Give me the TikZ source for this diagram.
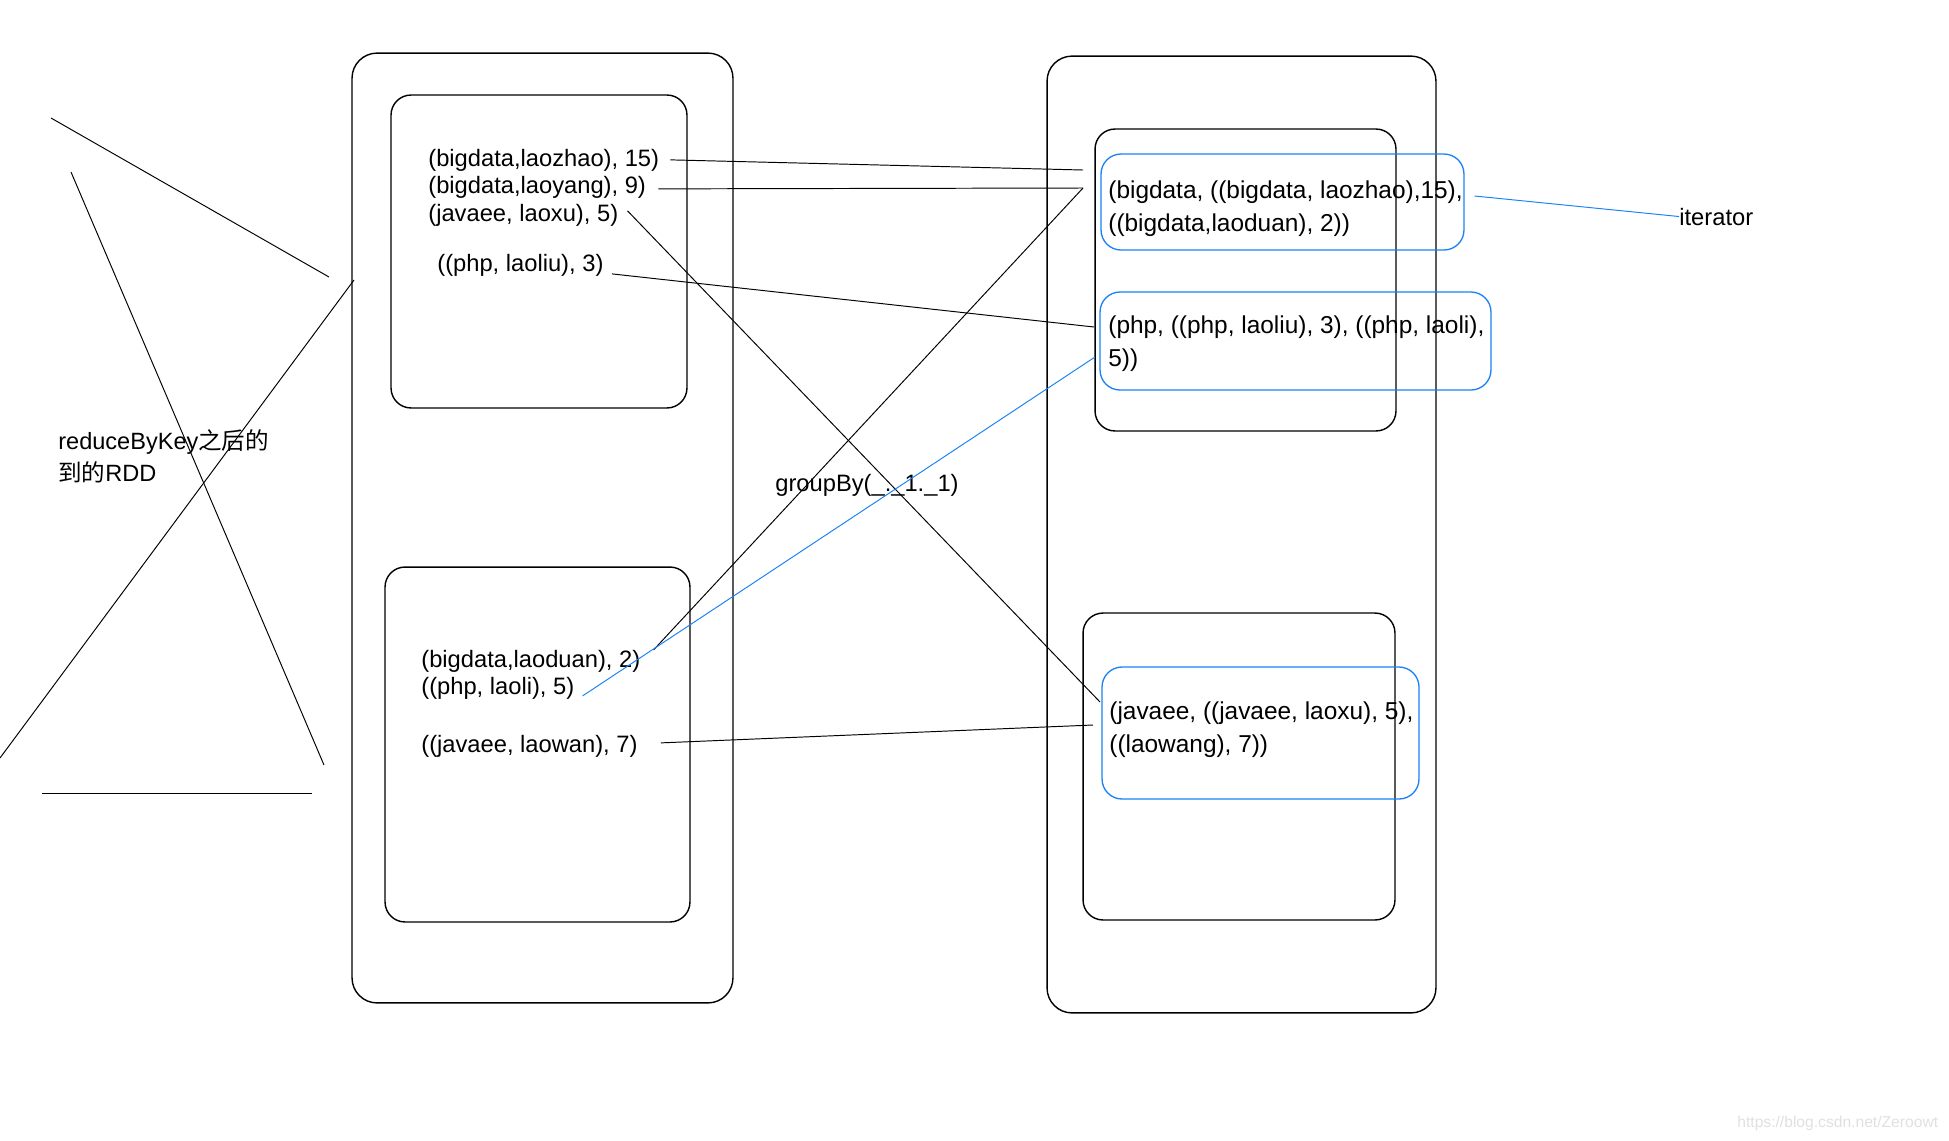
\documentclass[tikz,border=0pt]{standalone}
\usepackage{fontspec}
\setmainfont{Liberation Sans}
\newfontfamily\cjk{Noto Sans CJK SC}
\definecolor{linkblue}{RGB}{25,130,245}
\begin{document}
\begin{tikzpicture}[x=0.02cm, y=-0.02cm,
        rdd/.style={draw, rounded corners=0.5cm, line width=0.8pt},
        part/.style={draw, rounded corners=0.4cm, line width=0.8pt},
        group/.style={draw=linkblue, rounded corners=0.4cm, line width=0.75pt},
        ltext/.style={anchor=base west, inner sep=0pt, font=\fontsize{13.5}{15.4}\selectfont},
        rtext/.style={anchor=base west, inner sep=0pt, align=left, font=\fontsize{13.9}{18.7}\selectfont},
        link/.style={line width=0.55pt},
        bluelink/.style={draw=linkblue, line width=0.55pt}]
        \useasboundingbox (0,0) rectangle (1949,1140) ;
        % crossed out on the left
        \draw[link] (51,118) -- (329,277) ;
        \draw[link] (71,172) -- (324,765) ;
        \draw[link] (354,280) -- (0,758) ;
        \draw[link] (42,793) -- (312,793) ;
        \node[ltext, align=left, font=\fontsize{13.4}{18.1}\selectfont] (note) at (58,481) {reduceByKey{\cjk 之后的}\\{\cjk 到的}RDD};
        % RDD before groupBy
        \node[rdd, minimum width=7.62cm, minimum height=19cm] (rddA) at (542.5,528) {};
        \node[part, minimum width=5.92cm, minimum height=6.26cm] (partA1) at (539,251.5) {};
        \node[part, minimum width=6.1cm, minimum height=7.1cm] (partA2) at (537.5,744.5) {};
        \node[ltext] (t1) at (428,166) {(bigdata,laozhao), 15)};
        \node[ltext] (t2) at (428,193) {(bigdata,laoyang), 9)};
        \node[ltext] (t3) at (428,221) {(javaee, laoxu), 5)};
        \node[ltext] (t4) at (437,271) {((php, laoliu), 3)};
        \node[ltext] (t5) at (421,667) {(bigdata,laoduan), 2)};
        \node[ltext] (t6) at (421,694) {((php, laoli), 5)};
        \node[ltext] (t7) at (421,752) {((javaee, laowan), 7)};
        \node[ltext] (op) at (775,491) {groupBy(\_.\_1.\_1)};
        % RDD after groupBy
        \node[rdd, minimum width=7.78cm, minimum height=19.14cm] (rddB) at (1241.5,534.5) {};
        \node[part, minimum width=6.02cm, minimum height=6.04cm] (partB1) at (1245.5,280) {};
        \node[part, minimum width=6.24cm, minimum height=6.14cm] (partB2) at (1239,766.5) {};
        \node[group, minimum width=7.26cm, minimum height=1.92cm] (grp1) at (1282.5,202) {};
        \node[group, minimum width=7.82cm, minimum height=1.96cm] (grp2) at (1295.5,341) {};
        \node[group, minimum width=6.34cm, minimum height=2.64cm] (grp3) at (1260.5,733) {};
        \node[rtext] (g1) at (1108,231) {(bigdata, ((bigdata, laozhao),15),\\((bigdata,laoduan), 2))};
        \node[rtext] (g2) at (1108,366) {(php, ((php, laoliu), 3), ((php, laoli),\\5))};
        \node[rtext] (g3) at (1109,752) {(javaee, ((javaee, laoxu), 5),\\((laowang), 7))};
        \node[ltext] (iter) at (1679,225) {iterator};
        % connectors
        \coordinate (endA) at (1083,170) ;
        \coordinate (endB) at (1083,188) ;
        \coordinate (endC) at (1100,702) ;
        \coordinate (endD) at (1094,327) ;
        \coordinate (endF) at (1093,725) ;
        \coordinate (endG) at (1095,357) ;
        \draw[link] (t1.east) ++(11,0) -- (endA) ;
        \draw[link] (t2.east) ++(12,2) -- (endB) ;
        \draw[link] (t3.east) ++(9,-4) -- (endC) ;
        \draw[link] (t4.east) ++(8,9) -- (endD) ;
        \draw[link] (t5.east) ++(13,-11) -- (endB) ;
        \draw[link] (t7.east) ++(23,-3) -- (endF) ;
        \draw[bluelink] (t6.east) ++(8,8) -- (endG) ;
        \draw[bluelink] (grp1.east) ++(10,-6) -- (iter.west) ;
        \node[anchor=base west, inner sep=0pt, font=\fontsize{8.9}{10}\selectfont, text=black!12] (mark) at (1737,1127) {https://blog.csdn.net/Zeroowt};
\end{tikzpicture}
\end{document}
